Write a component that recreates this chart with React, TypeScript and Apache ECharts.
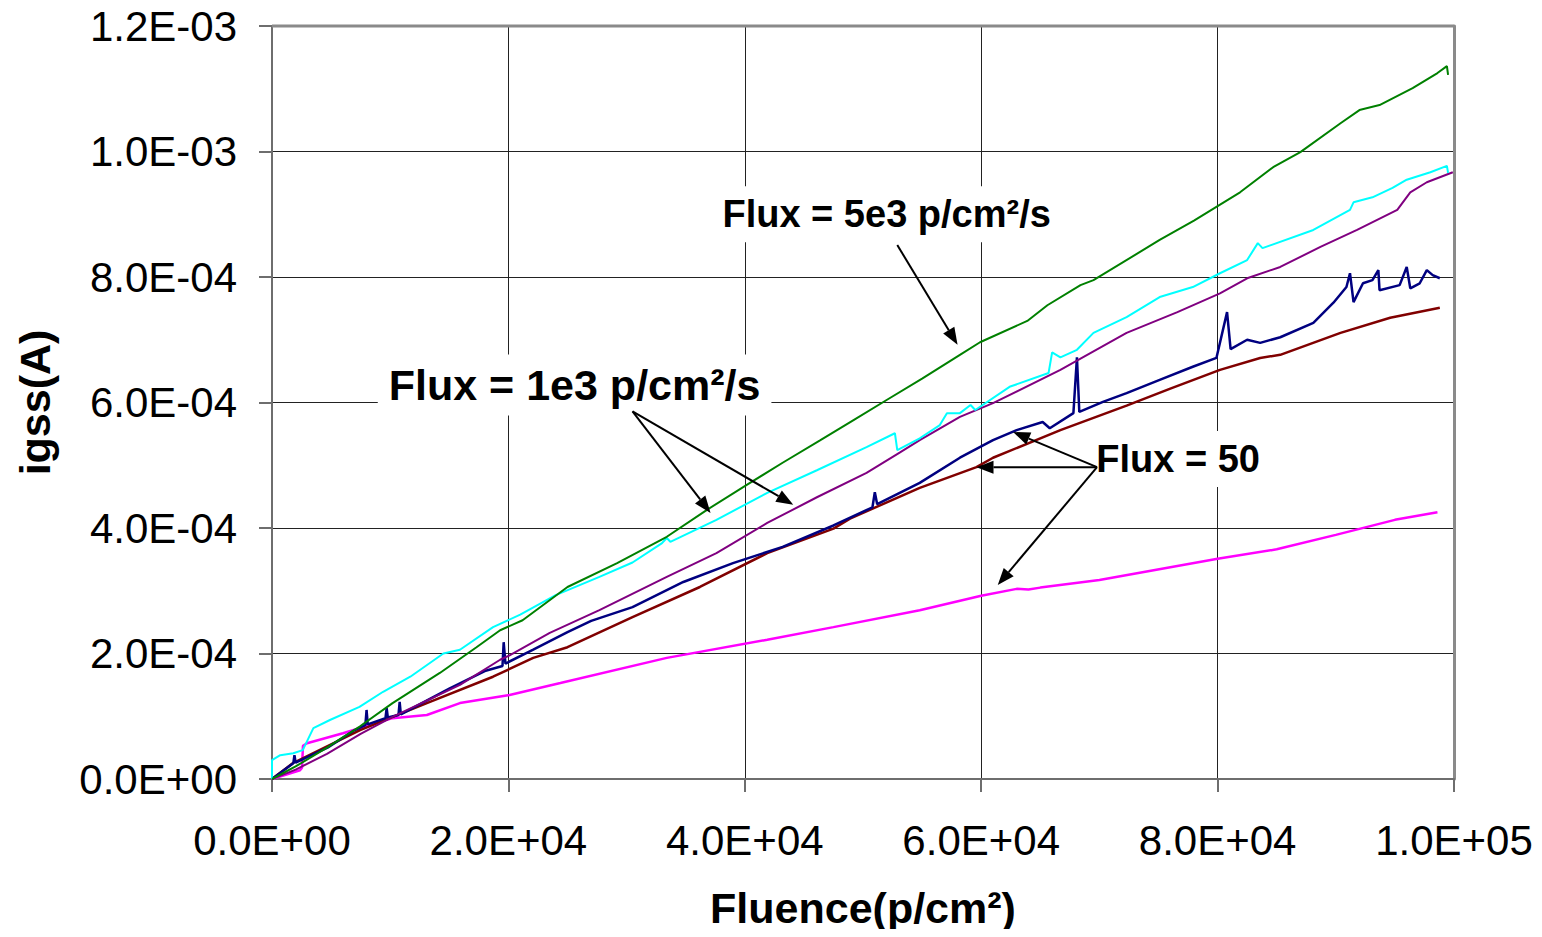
import React, { useEffect, useRef } from "react";
import * as echarts from "echarts";

// x values in units of 1e3 p/cm², y values in units of 1e-4 A
const xTicks = [0, 20000, 40000, 60000, 80000, 100000];
const yTicks = [0, 2e-4, 4e-4, 6e-4, 8e-4, 1e-3, 1.2e-3];

const green = [
  [0, 0], [2, 0.2], [4.65, 0.5], [7.45, 0.84], [10.2, 1.21], [14.2, 1.69], [17.3, 2.1], [19.3, 2.37],
  [21.2, 2.53], [25.0, 3.06], [29.2, 3.44], [33.4, 3.86], [36.8, 4.29], [40.2, 4.69], [43.2, 5.04],
  [46.4, 5.4], [49.2, 5.72], [52.0, 6.04], [55.0, 6.38], [58.2, 6.76], [59.9, 6.96], [63.9, 7.3],
  [65.6, 7.55], [68.4, 7.87], [69.5, 7.95], [75.1, 8.59], [78.0, 8.9], [81.9, 9.35], [84.7, 9.75],
  [87.0, 9.99], [90.4, 10.45], [92.0, 10.66], [93.7, 10.74], [96.5, 11.01], [98.6, 11.25],
  [99.4, 11.36], [99.5, 11.22],
];

const cyan = [
  [0, 0], [0, 0.3], [0.7, 0.38], [1.8, 0.41], [2.6, 0.46], [3.5, 0.81], [4.9, 0.94], [7.4, 1.15],
  [9.4, 1.39], [11.7, 1.63], [14.5, 2.0], [15.9, 2.06], [18.7, 2.42], [21.0, 2.62], [24.0, 2.93],
  [27.7, 3.22], [30.5, 3.45], [33.0, 3.76], [33.4, 3.84], [33.7, 3.78], [37.6, 4.13], [41.9, 4.56],
  [46.1, 4.92], [50.3, 5.29], [52.7, 5.51], [52.9, 5.24], [54.8, 5.43], [56.5, 5.64], [57.1, 5.83],
  [58.2, 5.83], [59.1, 5.96], [59.5, 5.88], [62.4, 6.25], [65.7, 6.47], [66.0, 6.8], [66.7, 6.72],
  [68.1, 6.84], [69.5, 7.11], [72.3, 7.36], [75.1, 7.68], [77.9, 7.84], [80.2, 8.06], [82.5, 8.27],
  [83.4, 8.54], [83.8, 8.46], [88.1, 8.75], [91.2, 9.07], [91.5, 9.19], [93.1, 9.27], [94.8, 9.42],
  [96.0, 9.55], [98.0, 9.67], [99.4, 9.77], [99.5, 9.66],
];

const purple = [
  [0, 0], [2, 0.15], [4.65, 0.4], [7.5, 0.72], [10.2, 0.99], [15.9, 1.5], [19.3, 1.9], [20.1, 1.97],
  [23.5, 2.33], [27.7, 2.69], [33.4, 3.22], [37.6, 3.6], [41.9, 4.08], [46.1, 4.49], [50.3, 4.88],
  [53.1, 5.2], [54.8, 5.4], [58.2, 5.77], [61.0, 5.99], [66.7, 6.52], [72.3, 7.11], [76.6, 7.44],
  [80.2, 7.74], [82.5, 7.98], [85.3, 8.16], [88.7, 8.48], [91.8, 8.75], [95.2, 9.07], [96.3, 9.35],
  [97.7, 9.51], [99.9, 9.67],
];

const navy = [
  [0, 0], [1.8, 0.25], [1.9, 0.38], [2.0, 0.26], [4.7, 0.5], [7.0, 0.78], [7.9, 0.86], [8.0, 1.1],
  [8.1, 0.87], [9.6, 0.97], [9.7, 1.13], [9.8, 0.98], [10.7, 1.02], [10.8, 1.23], [10.9, 1.03],
  [13.0, 1.24], [15.0, 1.44], [18.0, 1.72], [19.5, 1.8], [19.6, 2.18], [19.75, 1.84], [22.1, 2.06],
  [25.0, 2.34], [27.0, 2.52], [30.5, 2.74], [34.8, 3.14], [39.0, 3.44], [43.2, 3.7], [47.5, 4.04],
  [50.8, 4.33], [51.0, 4.57], [51.2, 4.38], [54.8, 4.72], [58.2, 5.12], [61.0, 5.4], [63.0, 5.56],
  [65.2, 5.69], [65.8, 5.59], [67.8, 5.83], [68.1, 6.72], [68.3, 5.85], [70.3, 6.01], [72.3, 6.15],
  [75.1, 6.36], [77.9, 6.57], [79.9, 6.71], [80.8, 7.44], [81.1, 6.85], [82.5, 7.0], [83.6, 6.95],
  [85.3, 7.04], [88.1, 7.27], [89.8, 7.59], [90.9, 7.84], [91.2, 8.06], [91.5, 7.6], [92.3, 7.9],
  [93.1, 7.95], [93.6, 8.11], [93.7, 7.79], [95.4, 7.87], [96.0, 8.16], [96.3, 7.82], [97.1, 7.9],
  [97.7, 8.11], [98.2, 8.03], [98.8, 7.98],
];

const brown = [
  [0, 0], [1.78, 0.255], [7.45, 0.78], [13.1, 1.21], [18.7, 1.63], [22.1, 1.93], [25.0, 2.1],
  [30.5, 2.58], [36.2, 3.06], [41.9, 3.6], [47.5, 3.99], [48.9, 4.15], [54.8, 4.64], [59.6, 4.97],
  [61.0, 5.12], [66.7, 5.56], [72.3, 5.95], [76.0, 6.22], [80.2, 6.52], [83.6, 6.71], [85.3, 6.76],
  [90.4, 7.11], [94.6, 7.35], [98.8, 7.51],
];

const magenta = [
  [0, 0], [2.37, 0.14], [2.54, 0.18], [2.62, 0.53], [2.96, 0.57], [6.0, 0.73], [10.2, 0.97],
  [13.1, 1.02], [15.9, 1.21], [20.1, 1.34], [24.4, 1.53], [33.4, 1.93], [41.9, 2.22], [47.5, 2.42],
  [54.8, 2.69], [60.0, 2.92], [63.0, 3.03], [64.0, 3.02], [65.0, 3.05], [70.0, 3.17], [80.0, 3.51],
  [85.0, 3.66], [90.0, 3.89], [95.0, 4.13], [98.6, 4.25],
];

const labels = [
  { text: "Flux = 5e3 p/cm²/s", at: [52.0, 9.0], size: 38, align: "center" },
  { text: "Flux = 1e3 p/cm²/s", at: [25.6, 6.28], size: 43, align: "center" },
  { text: "Flux = 50", at: [68.8, 5.1], size: 38, align: "left" },
];

const arrows = [
  { from: [52.9, 8.51], to: [58.0, 6.92] },
  { from: [30.5, 5.86], to: [37.1, 4.24] },
  { from: [30.5, 5.86], to: [44.1, 4.37] },
  { from: [69.8, 4.97], to: [62.7, 5.53] },
  { from: [69.8, 4.97], to: [59.6, 4.97] },
  { from: [69.8, 4.97], to: [61.4, 3.09] },
];

const FONT = "'Liberation Sans', Arial, sans-serif";

const toData = (arr: number[][]) => arr.map(([x, y]) => [x * 1e3, y * 1e-4]);

const fmt = (v: number) => {
  const s = Number(v).toExponential(1);
  const [m, e] = s.split("e");
  const n = parseInt(e, 10);
  return m + "E" + (n < 0 ? "-" : "+") + String(Math.abs(n)).padStart(2, "0");
};

export default function App() {
  const ref = useRef<HTMLDivElement>(null);
  useEffect(() => {
    if (!ref.current) return;
    const chart = echarts.init(ref.current, null, { renderer: "svg" });
    const mk = (name: string, data: number[][], color: string, width: number) => ({
      name,
      type: "line",
      data: toData(data),
      showSymbol: false,
      symbol: "none",
      lineStyle: { color, width },
      itemStyle: { color },
      silent: true,
    });
    chart.setOption({
      animation: false,
      backgroundColor: "#ffffff",
      grid: { left: 272, top: 26, width: 1182, height: 753, containLabel: false },
      xAxis: {
        type: "value",
        min: 0,
        max: 100000,
        interval: 20000,
        name: "Fluence(p/cm²)",
        nameLocation: "middle",
        nameGap: 107,
        nameTextStyle: { fontFamily: FONT, fontSize: 43, fontWeight: "bold", color: "#000" },
        axisLine: { show: true, lineStyle: { color: "#6e6e6e", width: 2 } },
        axisTick: { show: true, inside: false, length: 13, lineStyle: { color: "#6e6e6e", width: 2 } },
        axisLabel: { formatter: fmt, fontFamily: FONT, fontSize: 42, color: "#000", margin: 40 },
        splitLine: { show: true, lineStyle: { color: "#222", width: 1 } },
      },
      yAxis: [
        {
          type: "value",
          min: 0,
          max: 1.2e-3,
          interval: 2e-4,
          name: "igss(A)",
          nameLocation: "middle",
          nameRotate: 90,
          nameGap: 216,
          nameTextStyle: { fontFamily: FONT, fontSize: 43, fontWeight: "bold", color: "#000" },
          axisLine: { show: true, lineStyle: { color: "#6e6e6e", width: 2 } },
          axisTick: { show: true, inside: false, length: 13, lineStyle: { color: "#6e6e6e", width: 2 } },
          axisLabel: { formatter: fmt, fontFamily: FONT, fontSize: 42, color: "#000", margin: 35 },
          splitLine: { show: true, lineStyle: { color: "#222", width: 1 } },
        },
        {
          type: "value",
          position: "right",
          min: 0,
          max: 1.2e-3,
          interval: 2e-4,
          axisLine: { show: true, lineStyle: { color: "#8a8a8a", width: 3 } },
          axisTick: { show: false },
          axisLabel: { show: false },
          splitLine: { show: false },
        },
      ],
      series: [
        mk("Flux 50 (b)", magenta, "#ff00ff", 2.5),
        mk("Flux 50 (a)", brown, "#800000", 2.5),
        mk("Flux 50 (c)", navy, "#000080", 2.5),
        mk("Flux 1e3 (b)", purple, "#800080", 2),
        mk("Flux 1e3 (a)", cyan, "#00ffff", 2),
        mk("Flux 5e3", green, "#008000", 2),
      ],
    });

    const px = (p: number[]) =>
      chart.convertToPixel({ xAxisIndex: 0, yAxisIndex: 0 }, [p[0] * 1e3, p[1] * 1e-4]) as number[];
    const [gx0, gy0] = px([0, 12]);
    const [gx1] = px([100, 12]);

    const elements: any[] = [
      {
        type: "line",
        shape: { x1: gx0, y1: gy0, x2: gx1, y2: gy0 },
        style: { stroke: "#8a8a8a", lineWidth: 3 },
        z: 50,
      },
    ];
    labels.forEach((l) => {
      const [x, y] = px(l.at);
      elements.push({
        type: "text",
        x,
        y,
        z: 60,
        style: {
          text: l.text,
          font: `bold ${l.size}px ${FONT}`,
          fill: "#000",
          align: l.align,
          verticalAlign: "middle",
          backgroundColor: "#ffffff",
          padding: [9, 11, 9, 11],
        },
      });
    });
    arrows.forEach((a) => {
      const [x1, y1] = px(a.from);
      const [x2, y2] = px(a.to);
      const dx = x2 - x1;
      const dy = y2 - y1;
      const len = Math.sqrt(dx * dx + dy * dy);
      const ux = dx / len;
      const uy = dy / len;
      const L = 17;
      const W = 6.5;
      const bx = x2 - ux * L;
      const by = y2 - uy * L;
      elements.push({
        type: "line",
        z: 70,
        shape: { x1, y1, x2: bx, y2: by },
        style: { stroke: "#000", lineWidth: 2 },
      });
      elements.push({
        type: "polygon",
        z: 70,
        shape: {
          points: [
            [x2, y2],
            [bx - uy * W, by + ux * W],
            [bx + uy * W, by - ux * W],
          ],
        },
        style: { fill: "#000" },
      });
    });
    chart.setOption({ graphic: elements });

    return () => chart.dispose();
  }, []);
  return <div ref={ref} style={{ width: 1542, height: 937, margin: -8 }} />;
}
